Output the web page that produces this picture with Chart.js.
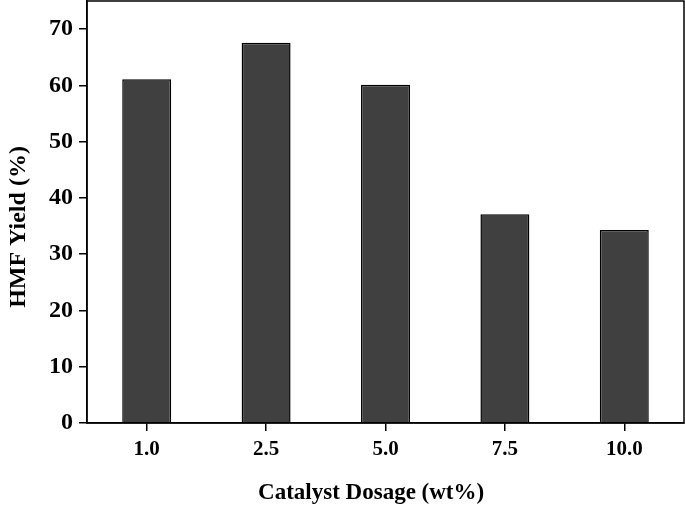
<!DOCTYPE html>
<html>
<head>
<meta charset="utf-8">
<script src="https://cdn.jsdelivr.net/npm/chart.js@4"></script>
<style>
  html, body { margin: 0; padding: 0; background: #fff; }
  #wrap { width: 685px; height: 506px; }
</style>
</head>
<body>
<div id="wrap"><canvas id="yieldChart"></canvas></div>
<script>
const dosages = ['1.0', '2.5', '5.0', '7.5', '10.0'];
const hmfYield = [61.1, 67.6, 60.1, 37.1, 34.3];
const yTicks = [0, 10, 20, 30, 40, 50, 60, 70];

const serif = '"Liberation Serif", "Times New Roman", serif';

// box around the plot area
const frame = {
  id: 'frame',
  afterDraw(chart) {
    const { ctx, chartArea: a } = chart;
    ctx.save();
    ctx.strokeStyle = '#000';
    ctx.lineWidth = 1.5;
    ctx.strokeRect(a.left, a.top, a.right - a.left, a.bottom - a.top);
    ctx.restore();
  }
};

const ctx = document.getElementById('yieldChart').getContext('2d');
new Chart(ctx, {
  type: 'bar',
  data: {
    labels: dosages,
    datasets: [{
      data: hmfYield,
      backgroundColor: '#404040',
      borderColor: '#000',
      borderWidth: 1.5,
      categoryPercentage: 1,
      barPercentage: 0.41
    }]
  },
  options: {
    responsive: true,
    maintainAspectRatio: false,
    animation: false,
    layout: { padding: { top: 1, right: 1 } },
    plugins: { legend: { display: false }, tooltip: { enabled: false } },
    scales: {
      x: {
        grid: { display: true, drawOnChartArea: false, offset: false, tickLength: 8, color: '#000', lineWidth: 1.5 },
        border: { display: true, color: '#000', width: 1.5 },
        ticks: { color: '#000', padding: 6, font: { family: serif, size: 21, weight: 'bold' } },
        // trailing spaces nudge the centred title a little left, like the original
        title: { display: true, text: 'Catalyst Dosage (wt%)\u00a0\u00a0\u00a0\u00a0\u00a0', color: '#000', padding: { top: 17, bottom: -1 }, font: { family: serif, size: 23, weight: 'bold' } },
        afterFit(scale) { scale.height = 83; scale.paddingLeft = 0; scale.paddingRight = 0; }
      },
      y: {
        min: 0,
        max: 75,
        afterBuildTicks(scale) { scale.ticks = yTicks.map(v => ({ value: v })); },
        grid: { display: true, drawOnChartArea: false, tickLength: 8, color: '#000', lineWidth: 1.5 },
        border: { display: true, color: '#000', width: 1.5 },
        ticks: { color: '#000', padding: 6, font: { family: serif, size: 24, weight: 'bold' } },
        title: { display: true, text: 'HMF Yield (%)\u00a0\u00a0\u00a0\u00a0\u00a0', color: '#000', padding: { bottom: 0 }, font: { family: serif, size: 24, weight: 'bold' } },
        afterFit(scale) { scale.width = 87; scale.paddingTop = 0; scale.paddingBottom = 0; }
      }
    }
  },
  plugins: [frame]
});
</script>
</body>
</html>
